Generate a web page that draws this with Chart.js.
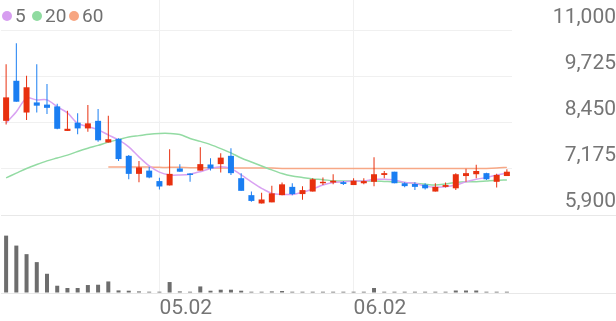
<!DOCTYPE html>
<html>
<head>
<meta charset="utf-8">
<title>Daily candles</title>
<script src="https://cdn.jsdelivr.net/npm/chart.js@4.4.1/dist/chart.umd.min.js"></script>
<style>
  body { margin: 0; background: #fff; font-family: Roboto, sans-serif; }
  #wrap { position: relative; width: 616px; height: 321px; overflow: hidden; }
  #priceChart { position: absolute; left: 0; top: 0; }
  #volChart { position: absolute; left: 0; top: 215px; }
  .item { position: absolute; top: 4px; height: 23px; display: flex; align-items: center; font-size: 19px; color: #707070; }
  .dot { display: inline-block; width: 10px; height: 10px; border-radius: 50%; margin-right: 3px; }
</style>
</head>
<body>
<div id="wrap">
  <canvas id="priceChart" width="616" height="216"></canvas>
  <canvas id="volChart" width="616" height="106"></canvas>
  <div class="item" style="left:2px"><span class="dot" style="background:#d79ef0"></span>5</div>
  <div class="item" style="left:32px"><span class="dot" style="background:#8fdba0"></span>20</div>
  <div class="item" style="left:69px"><span class="dot" style="background:#f7a682"></span>60</div>
</div>
<script>
const dates = ['04.10','04.11','04.14','04.15','04.16','04.17','04.18','04.21','04.22','04.23',
  '04.24','04.25','04.28','04.29','04.30','05.02','05.07','05.08','05.09','05.12',
  '05.13','05.14','05.15','05.16','05.19','05.20','05.21','05.22','05.23','05.26',
  '05.27','05.28','05.29','05.30','06.02','06.04','06.05','06.09','06.10','06.11',
  '06.12','06.13','06.16','06.17','06.18','06.19','06.20','06.23','06.24','06.25'];

const open = [8510,9620,8740,9020,8960,8910,8230,8460,8300,8510,
  7910,8010,7540,7040,7130,6840,6720,7190,7050,7130,
  7300,7310,7540,6920,6450,6220,6250,6450,6680,6480,
  6550,6780,6800,6810,6730,6780,6820,7010,7100,6780,
  6760,6740,6550,6680,6640,6980,7030,7060,6820,6980];
const high = [10080,10660,9760,10080,9530,8980,8790,8720,8950,8840,
  8650,8030,7560,7400,7240,6930,7720,7310,7060,7780,
  7470,7610,7750,7060,6550,6520,6710,6800,6780,6700,
  6920,6940,7030,6840,6920,6920,7500,7120,7100,6810,
  6810,6780,6780,6800,7060,7180,7290,7070,7040,7170];
const low = [8410,9040,8530,8740,8700,8280,8230,8140,8210,7930,
  7910,7400,6890,6810,6920,6610,6720,7100,6820,7130,
  7130,7080,7010,6570,6270,6220,6250,6450,6450,6320,
  6550,6730,6750,6730,6730,6750,6700,6920,6780,6670,
  6590,6610,6550,6660,6590,6820,6920,6870,6660,6980];
const close = [9160,9040,9440,8930,8870,8290,8290,8300,8440,7970,
  8000,7450,7040,7220,6940,6690,7040,7100,7010,7310,
  7190,7490,7060,6570,6290,6330,6500,6750,6480,6590,
  6890,6820,6850,6760,6850,6840,7030,7060,6780,6700,
  6680,6640,6680,6730,7030,7060,7120,6890,7010,7100];

// moving averages
const ma5 = [8450,8760,9140,9090,9090,8900,8730,8440,8350,8260,
  8120,7980,7790,7510,7260,7090,7010,7010,7030,7100,
  7190,7240,7190,7010,6820,6640,6500,6470,6470,6530,
  6620,6730,6800,6820,6840,6840,6890,6890,6870,6800,
  6780,6700,6670,6680,6730,6820,6890,6940,7010,7060];
const ma20 = [6930,7060,7190,7300,7400,7480,7560,7660,7750,7830,
  7920,7990,8060,8100,8140,8160,8160,8130,8020,7940,
  7850,7740,7620,7480,7370,7260,7150,7050,6980,6940,
  6900,6880,6850,6840,6840,6840,6840,6830,6820,6800,
  6780,6750,6730,6760,6800,6820,6820,6840,6860,6870];
const ma60 = [null,null,null,null,null,null,null,null,null,null,
  7230,7230,7230,7230,7230,7220,7220,7220,7210,7210,
  7210,7200,7200,7200,7200,7200,7200,7190,7190,7190,
  7190,7190,7190,7190,7190,7190,7190,7190,7190,7190,
  7190,7190,7190,7190,7190,7190,7190,7190,7200,7220];

const volume = [576,476,390,310,193,73,50,50,80,83,
  116,26,23,16,13,13,110,16,13,66,
  23,33,33,23,13,13,16,20,13,13,
  13,13,13,13,13,13,50,13,13,13,
  13,13,13,13,25,25,25,13,13,13];

const priceTicks = [5900, 7175, 8450, 9725, 11000];

const RED = '#e8300f';
const BLUE = '#1a7ef2';
const GRID = '#f0f0f0';
const TXT = '#757575';

Chart.defaults.font.family = 'Roboto';

function isMonthStart(i) {
  return i > 0 && dates[i].slice(0, 2) !== dates[i - 1].slice(0, 2);
}

const candleColor = close.map((c, i) => c >= open[i] ? RED : BLUE);

new Chart(document.getElementById('priceChart'), {
  type: 'bar',
  data: {
    labels: dates,
    datasets: [
      { type: 'line', label: '60', data: ma60, borderColor: '#f7a886', borderWidth: 1.5, pointRadius: 0, tension: 0.3, order: 4 },
      { type: 'line', label: '20', data: ma20, borderColor: '#93dba3', borderWidth: 1.5, pointRadius: 0, tension: 0.3, order: 3 },
      { type: 'line', label: '5', data: ma5, borderColor: '#d9a2f2', borderWidth: 1.5, pointRadius: 0, tension: 0.3, order: 2 },
      { label: 'wick', data: low.map((l, i) => [l, high[i]]), backgroundColor: candleColor,
        barThickness: 1, grouped: false, inflateAmount: 0, order: 1 },
      { label: 'body', data: open.map((o, i) => [o, close[i]]), backgroundColor: candleColor,
        barThickness: 6, grouped: false, inflateAmount: 0, order: 0 }
    ]
  },
  options: {
    responsive: false,
    animation: false,
    layout: { padding: { left: 1, bottom: 1 } },
    plugins: { legend: { display: false }, tooltip: { enabled: false } },
    scales: {
      x: {
        grid: { offset: false, drawTicks: false, color: ctx => isMonthStart(ctx.index) ? GRID : 'rgba(0,0,0,0)' },
        border: { display: false },
        ticks: { display: false, autoSkip: false }
      },
      y: {
        position: 'right',
        min: 5900,
        max: 11859,
        afterBuildTicks: s => { s.ticks = priceTicks.map(v => ({ value: v })); },
        afterFit: s => { s.width = 104; s.paddingTop = 0; s.paddingBottom = 0; },
        grid: { color: GRID, drawTicks: false },
        border: { display: false },
        ticks: {
          crossAlign: 'far', padding: 37, labelOffset: -13,
          color: TXT, font: { size: 21 },
          callback: v => v.toLocaleString('en-US')
        }
      }
    }
  }
});

new Chart(document.getElementById('volChart'), {
  type: 'bar',
  data: {
    labels: dates,
    datasets: [{ data: volume, backgroundColor: '#6d6d6d', barThickness: 4, inflateAmount: 0 }]
  },
  options: {
    responsive: false,
    animation: false,
    layout: { padding: { left: 1 } },
    plugins: { legend: { display: false }, tooltip: { enabled: false } },
    scales: {
      x: {
        grid: { offset: false, drawTicks: false, color: ctx => isMonthStart(ctx.index) ? GRID : 'rgba(0,0,0,0)' },
        border: { display: false },
        afterFit: s => { s.height = 28; },
        ticks: {
          autoSkip: false, maxRotation: 0, align: 'start', padding: 3,
          color: TXT, font: { size: 21 },
          callback: (v, i) => isMonthStart(i) ? dates[i] : ''
        }
      },
      y: {
        position: 'right',
        min: 0,
        max: 783,
        afterBuildTicks: s => { s.ticks = [{ value: 0 }, { value: 783 }]; },
        afterFit: s => { s.width = 104; },
        grid: { color: '#e8e8e8', tickLength: 104 },
        border: { display: false },
        ticks: { display: false }
      }
    }
  }
});
</script>
</body>
</html>
